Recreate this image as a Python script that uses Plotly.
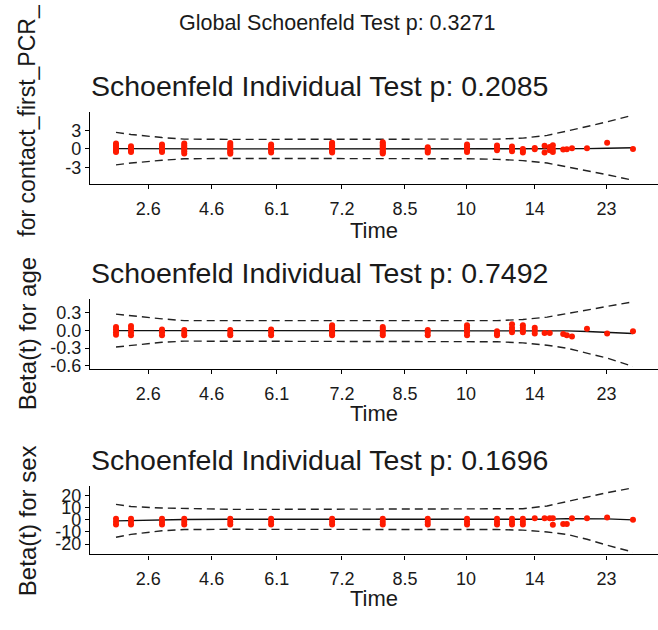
import plotly.graph_objects as go

# ---------------- data ----------------
# event times on the transformed (km) time scale; one group of residuals per time
event_km = [0.000, 0.029, 0.089, 0.132, 0.221, 0.300, 0.418, 0.516, 0.603, 0.679,
            0.737, 0.766, 0.787, 0.810, 0.829, 0.839, 0.845, 0.865, 0.872, 0.882,
            0.911, 0.950, 1.000]

resid_contact = [
    [0.9, 0.6, 0.3, 0.0, -0.3, -0.5],
    [0.45, 0.15, -0.2, -0.5],
    [0.7, 0.35, 0.0, -0.3, -0.5],
    [0.87, 0.55, 0.25, -0.05, -0.4, -0.74],
    [0.95, 0.65, 0.35, 0.05, -0.25, -0.55, -0.8],
    [0.7, 0.4, 0.1, -0.2, -0.58],
    [1.0, 0.8, 0.6, 0.4, 0.2, 0.0, -0.2, -0.4, -0.58],
    [1.1, 0.85, 0.6, 0.35, 0.1, -0.15, -0.4, -0.6, -0.74],
    [0.27, 0.0, -0.3, -0.58],
    [0.7, 0.4, 0.1, -0.2, -0.5],
    [0.55, 0.2, -0.2],
    [0.4, 0.0, -0.37],
    [0.0, -0.3, -0.58],
    [0.15, -0.05],
    [0.5, -0.6],
    [0.3, -0.2, 0.1],
    [0.6, -0.5, 0.0],
    [-0.1],
    [-0.05],
    [0.1],
    [0.1],
    [1.0],
    [0.0],
]

resid_age = [
    [0.06, 0.02, -0.03, -0.07],
    [0.08, 0.03, -0.03, -0.08],
    [0.02, -0.03, -0.08],
    [0.01, -0.04, -0.08],
    [0.01, -0.04, -0.08],
    [0.02, -0.03, -0.08],
    [0.09, 0.06, 0.03, 0.0, -0.03, -0.06, -0.08],
    [0.06, 0.03, 0.0, -0.04, -0.08],
    [0.01, -0.03, -0.08],
    [0.09, 0.05, 0.01, -0.03, -0.08],
    [-0.01, -0.05, -0.08],
    [0.11, 0.05, 0.0, -0.03],
    [0.09, 0.05, 0.0, -0.03],
    [0.05, 0.0, -0.05],
    [-0.04],
    [-0.04],
    [],
    [-0.06],
    [-0.08],
    [-0.1],
    [0.03],
    [-0.05],
    [-0.01],
]

resid_sex = [
    [1.0, -1.5, -3.8],
    [1.0, -1.5, -3.8],
    [1.0, -1.5, -3.8],
    [1.0, -1.5, -3.8],
    [1.0, -1.5, -3.8],
    [1.0, -1.5, -3.8],
    [1.0, -1.5, -3.8],
    [1.0, -1.5, -3.8],
    [1.0, -1.5, -3.8],
    [1.0, -1.5, -3.8],
    [1.0, -1.5, -3.8],
    [1.0, -1.5, -3.8],
    [1.0, -1.5, -3.8],
    [1.4],
    [1.4],
    [1.4],
    [1.4, -4.0],
    [-3.5],
    [-3.5],
    [1.4],
    [1.4],
    [1.9],
    [0.0],
]

# smoothed beta(t) and its confidence band
curve_km = [0.000, 0.029, 0.089, 0.132, 0.221, 0.300, 0.418, 0.516, 0.603, 0.679,
            0.737, 0.787, 0.834, 0.872, 0.911, 0.950, 1.000]

fit_contact = [0.05, 0.03, 0.0, 0.0, 0.0, 0.0, 0.0, -0.02, -0.02, -0.02, -0.05, -0.07, -0.05, 0.0, 0.05, 0.1, 0.2]
up_contact = [2.7, 2.35, 1.85, 1.6, 1.55, 1.55, 1.55, 1.55, 1.55, 1.55, 1.6, 1.75, 2.2, 2.9, 3.6, 4.4, 5.5]
lo_contact = [-2.6, -2.3, -1.85, -1.6, -1.55, -1.55, -1.55, -1.6, -1.6, -1.6, -1.7, -1.9, -2.3, -2.9, -3.5, -4.2, -5.1]

fit_age = [0.0, 0.0, 0.0, -0.005, -0.005, -0.005, -0.005, -0.005, -0.005, -0.005, -0.01, -0.01, -0.01, -0.005, -0.015, -0.025, -0.05]
up_age = [0.28, 0.25, 0.20, 0.17, 0.17, 0.17, 0.17, 0.17, 0.17, 0.17, 0.17, 0.19, 0.23, 0.29, 0.35, 0.42, 0.49]
lo_age = [-0.28, -0.25, -0.20, -0.18, -0.18, -0.18, -0.18, -0.18, -0.18, -0.18, -0.19, -0.21, -0.25, -0.30, -0.38, -0.47, -0.61]

fit_sex = [-0.8, -0.5, 0.0, 0.3, 0.5, 0.5, 0.5, 0.5, 0.5, 0.5, 0.4, 0.3, 0.5, 1.0, 1.2, 0.8, 0.0]
up_sex = [12.8, 11.0, 9.8, 9.3, 8.7, 8.7, 8.7, 8.7, 8.7, 8.7, 8.7, 9.2, 11.5, 15.0, 18.5, 22.5, 26.4]
lo_sex = [-14.4, -12.0, -9.0, -8.0, -7.8, -7.8, -7.8, -7.8, -7.8, -7.8, -8.0, -8.5, -10.0, -12.0, -16.0, -21.0, -26.6]

# x tick positions (km scale) and their time labels
time_tick_km = [0.0625, 0.185, 0.311, 0.437, 0.559, 0.677, 0.810, 0.949]
time_tick_labels = ["2.6", "4.6", "6.1", "7.2", "8.5", "10", "14", "23"]

global_title = "Global Schoenfeld Test p: 0.3271"
panel_titles = ["Schoenfeld Individual Test p: 0.2085",
                "Schoenfeld Individual Test p: 0.7492",
                "Schoenfeld Individual Test p: 0.1696"]
y_titles = ["for contact_first_PCR_", "Beta(t) for age", "Beta(t) for sex"]

yticks_contact = [-3, 0, 3]
yticks_age = [-0.6, -0.3, 0.0, 0.3]
yticks_age_text = ["-0.6", "-0.3", "0.0", "0.3"]
yticks_sex = [-20, -10, 0, 10, 20]

# ---------------- figure ----------------
W, H = 658, 630
FONT = "Liberation Sans, Arial, sans-serif"
TXT = "#1a1a1a"

def py(pix):
    return 1 - pix / H

def px(pix):
    return pix / W

panels = [
    dict(resid=resid_contact, fit=fit_contact, up=up_contact, lo=lo_contact,
         yrange=[-5.7, 6.0], tv=yticks_contact, tt=[str(v) for v in yticks_contact],
         dom=[py(186.0), py(113.3)], sub=87, time=233, ytitle_c=122, ytitle_size=23),
    dict(resid=resid_age, fit=fit_age, up=up_age, lo=lo_age,
         yrange=[-0.658, 0.533], tv=yticks_age, tt=yticks_age_text,
         dom=[py(373.3), py(302.7)], sub=276, time=418, ytitle_c=338, ytitle_size=24),
    dict(resid=resid_sex, fit=fit_sex, up=up_sex, lo=lo_sex,
         yrange=[-28.6, 27.8], tv=yticks_sex, tt=[str(v) for v in yticks_sex],
         dom=[py(560.7), py(491.7)], sub=465, time=605, ytitle_c=527, ytitle_size=24),
]

fig = go.Figure()
annotations = [dict(text=global_title, x=px(336.5), y=py(23), xref="paper", yref="paper",
                    xanchor="center", yanchor="middle", showarrow=False,
                    font=dict(size=21.5, color=TXT, family=FONT))]

layout_axes = {}
for i, p in enumerate(panels):
    n = "" if i == 0 else str(i + 1)
    xref, yref = "x" + n, "y" + n
    xs, ys = [], []
    for xk, grp in zip(event_km, p["resid"]):
        for r in grp:
            xs.append(xk)
            ys.append(r)
    for band in (p["up"], p["lo"]):
        fig.add_trace(go.Scatter(x=curve_km, y=band, mode="lines", xaxis=xref, yaxis=yref,
                                 line=dict(color="#222222", width=1.4, dash="8px,5px"),
                                 showlegend=False, hoverinfo="skip"))
    fig.add_trace(go.Scatter(x=curve_km, y=p["fit"], mode="lines", xaxis=xref, yaxis=yref,
                             line=dict(color="#111111", width=1.4),
                             showlegend=False, hoverinfo="skip"))
    fig.add_trace(go.Scatter(x=xs, y=ys, mode="markers", xaxis=xref, yaxis=yref,
                             marker=dict(color="#ff1a00", size=6, line=dict(width=0)),
                             showlegend=False))
    layout_axes["xaxis" + n] = dict(
        domain=[px(90), 1.0], range=[-0.0503, 1.0484], anchor=yref,
        showline=True, linecolor="black", linewidth=1.2, mirror=False,
        showgrid=False, zeroline=False, ticks="outside", ticklen=4, tickwidth=1.1,
        tickcolor="black", tickvals=time_tick_km, ticktext=time_tick_labels,
        ticklabelstandoff=4,
        tickfont=dict(size=18, color=TXT, family=FONT), fixedrange=True)
    layout_axes["yaxis" + n] = dict(
        domain=p["dom"], range=p["yrange"], anchor=xref,
        showline=True, linecolor="black", linewidth=1.2,
        showgrid=False, zeroline=False, ticks="outside", ticklen=4, tickwidth=1.1,
        tickcolor="black", tickvals=p["tv"], ticktext=p["tt"],
        tickfont=dict(size=18, color=TXT, family=FONT), fixedrange=True)
    annotations.append(dict(text=panel_titles[i], x=px(89), y=py(p["sub"]),
                            xref="paper", yref="paper", xanchor="left", yanchor="middle",
                            showarrow=False, font=dict(size=28.5, color=TXT, family=FONT)))
    annotations.append(dict(text="Time", x=px(374), y=py(p["time"]),
                            xref="paper", yref="paper", xanchor="center", yanchor="middle",
                            showarrow=False, font=dict(size=22, color=TXT, family=FONT)))
    annotations.append(dict(text=y_titles[i], x=px(27), y=py(p["ytitle_c"]),
                            xref="paper", yref="paper", xanchor="center", yanchor="middle",
                            textangle=-90, showarrow=False,
                            font=dict(size=p["ytitle_size"], color=TXT, family=FONT)))

fig.update_layout(
    width=W, height=H, margin=dict(l=0, r=0, t=0, b=0),
    paper_bgcolor="white", plot_bgcolor="white",
    font=dict(family=FONT, color=TXT),
    annotations=annotations, showlegend=False,
    **layout_axes)

fig.write_html("out.html", config={"displayModeBar": False},
               post_script="document.body.style.margin='0px';document.body.style.overflow='hidden';")
